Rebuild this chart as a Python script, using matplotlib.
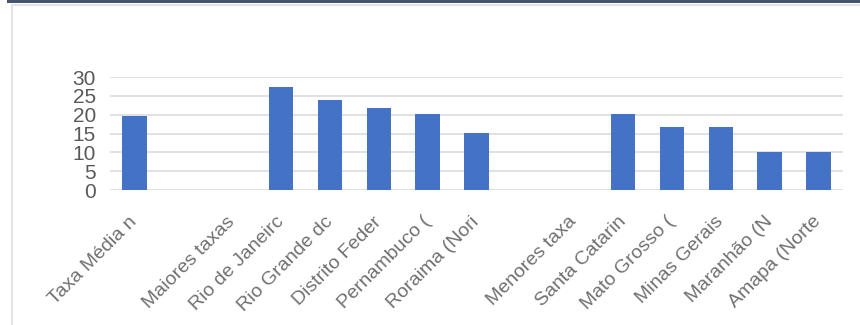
import matplotlib.pyplot as plt
from matplotlib.patches import Rectangle

labels = ["Taxa Média n", "", "Maiores taxas", "Rio de Janeirc", "Rio Grande dc",
          "Distrito Feder", "Pernambuco (", "Roraima (Nori", "", "Menores taxa",
          "Santa Catarin", "Mato Grosso (", "Minas Gerais", "Maranhão (N", "Amapa (Norte"]
values = [19.7, 0, 0, 27.4, 23.9, 21.8, 20.2, 15.2, 0, 0,
          20.2, 16.8, 16.8, 10.2, 10.0]
yticks = [0, 5, 10, 15, 20, 25, 30]

plt.rcParams["font.family"] = ["Liberation Sans", "DejaVu Sans"]

fig = plt.figure(figsize=(8.6, 3.25), dpi=100)

# top dark band and light frame
fig.patches.append(Rectangle((7 / 860, 1 - 3 / 325), 1, 3 / 325, transform=fig.transFigure,
                             facecolor="#44546a", edgecolor="none"))
fig.patches.append(Rectangle((12 / 860, -0.1), 1, 1 - 5 / 325 + 0.1, transform=fig.transFigure,
                             facecolor="none", edgecolor="#e3e3e3", lw=1.5))

ax = fig.add_axes([110 / 860, 1 - 190 / 325, 733 / 860, 113 / 325])
x = range(len(labels))
ax.bar(x, values, width=0.5, color="#4472c4", zorder=3)

ax.set_xlim(-0.5, len(labels) - 0.5)
ax.set_ylim(0, 30)
ax.set_yticks(yticks)
ax.set_yticklabels([str(v) for v in yticks], fontsize=15, color="#595959")
ax.set_xticks(list(x))
ax.set_xticklabels(labels, rotation=45, ha="right", va="center", rotation_mode="anchor",
                   fontsize=14, color="#707070")
ax.tick_params(axis="both", length=0)
ax.tick_params(axis="x", pad=21)
ax.tick_params(axis="y", pad=10)
ax.grid(axis="y", color="#d9d9d9", lw=1.1, zorder=0)
for s in ax.spines.values():
    s.set_visible(False)

fig.savefig("out.png", dpi=100)
